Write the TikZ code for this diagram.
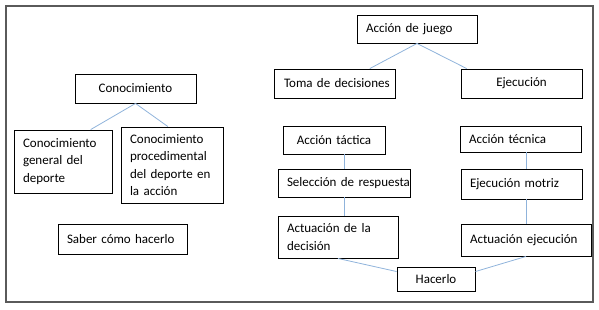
\documentclass[tikz,border=0pt]{standalone}
\usepackage{fontspec}
\setmainfont{Carlito}[WordSpace=0.75]
\usetikzlibrary{calc}

\definecolor{linkblue}{RGB}{143,179,219}
\definecolor{framegray}{RGB}{90,90,90}

\tikzset{
    % --- Text box of the scheme ---
    box/.style = {
        rectangle, draw, line width=0.9pt,
        inner xsep=9pt, inner ysep=1pt,
        align=left,
        font=\fontsize{13}{17.5}\selectfont
    },
    % --- Box whose single line is centred ---
    cbox/.style = {
        box, align=center
    },
    % --- Light blue connector ---
    link/.style = {
        linkblue, line width=0.8pt
    },
    % --- Outer frame ---
    frame/.style = {
        draw=framegray, line width=1.4pt
    }
}

\begin{document}
\begin{tikzpicture}[x=1pt, y=-1pt]

\useasboundingbox (0,0) rectangle (599,310);
\node[frame, minimum width=587, minimum height=296, inner sep=0pt] (border) at (299.5,154) {};

% ---------------------------------------------------------
% Left branch: knowledge
% ---------------------------------------------------------
\node[cbox, minimum width=121, text width=103, minimum height=29] (know) at (135.5,88.5) {Conocimiento};
\node[box, minimum width=98, text width=80, minimum height=63] (general) at (63,161.5)
    {Conocimiento\\general del\\deporte};
\node[box, minimum width=102, text width=84, minimum height=76] (proced) at (172,165)
    {Conocimiento\\procedimental\\del deporte en\\la acción};
\node[box, minimum width=129, text width=111, minimum height=30] (saber) at (122.5,239) {Saber cómo hacerlo};

\draw[link] (know.south) -- ($(general.north west)!0.78!(general.north east)$);
\draw[link] (know.south) -- ($(proced.north west)!0.46!(proced.north east)$);

% ---------------------------------------------------------
% Right branch: game action
% ---------------------------------------------------------
\node[box, minimum width=120, text width=102, minimum height=28] (juego) at (417,29) {Acción de juego};
\node[box, inner xsep=10pt, minimum width=121, text width=101, minimum height=29] (toma) at (334.5,83.5) {\mbox{Toma de decisiones}};
\node[cbox, minimum width=121, text width=103, minimum height=29] (ejec) at (521.5,83.5) {Ejecución};

\draw[link] (juego.south) -- ($(toma.north west)!0.79!(toma.north east)$);
\draw[link] (juego.south) -- ($(ejec.north west)!0.05!(ejec.north east)$);

% tactical column
\node[cbox, minimum width=102, text width=84, minimum height=28] (tactica) at (334,140) {Acción táctica};
\node[box, minimum width=132, text width=114, minimum height=28] (seleccion) at (344,183) {\mbox{Selección de respuesta}};
\node[box, minimum width=120, text width=102, minimum height=42] (decision) at (338,237)
    {Actuación de la\\decisión};

\draw[link] (seleccion.north) -- (seleccion.north |- tactica.south);
\draw[link] (seleccion.south) -- (seleccion.south |- decision.north);

% technical column
\node[box, minimum width=121, text width=103, minimum height=26] (tecnica) at (520.5,139) {Acción técnica};
\node[box, minimum width=121, text width=103, minimum height=30] (motriz) at (521.5,184) {Ejecución motriz};
\node[box, minimum width=130, text width=112, minimum height=32] (actejec) at (526,240) {Actuación ejecución};

\draw[link] (tecnica.south -| actejec.north) -- (motriz.north -| actejec.north);
\draw[link] (actejec.north) -- (actejec.north |- motriz.south);

% ---------------------------------------------------------
% Joint outcome
% ---------------------------------------------------------
\node[cbox, minimum width=78, text width=60, minimum height=24] (hacerlo) at (436,279) {Hacerlo};

\draw[link] (decision.south) -- ($(hacerlo.north west)!0.2!(hacerlo.south west)$);
\draw[link] (actejec.south) -- ($(hacerlo.north east)!0.2!(hacerlo.south east)$);

\end{tikzpicture}
\end{document}
